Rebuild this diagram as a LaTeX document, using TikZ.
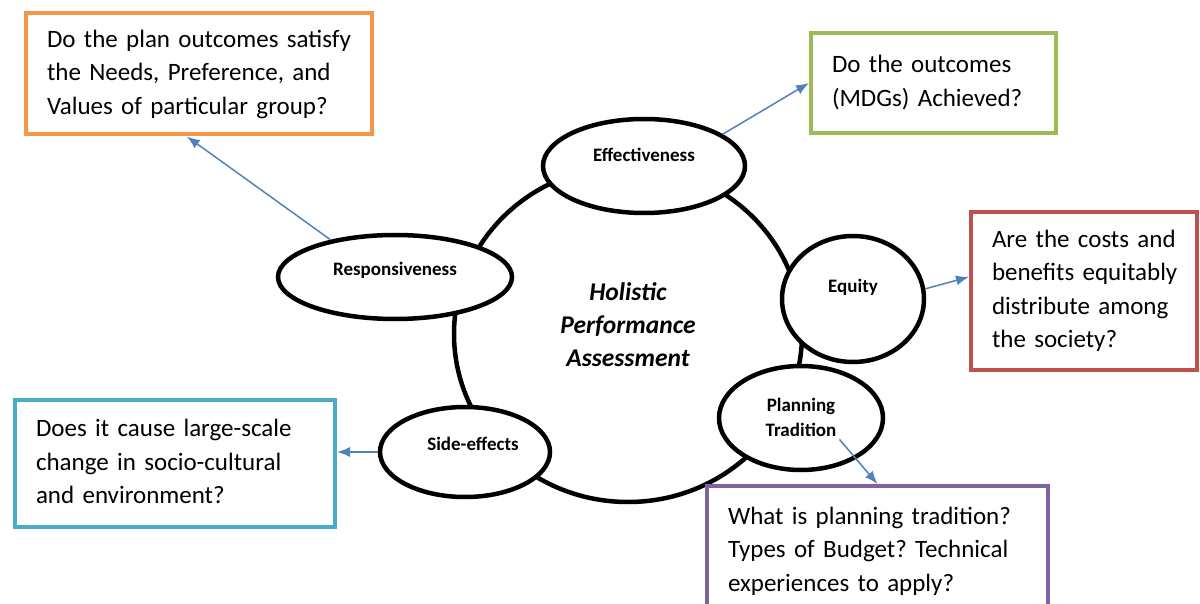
\documentclass[tikz,border=0pt]{standalone}
\usepackage{fontspec}
\setmainfont{Carlito}
\usetikzlibrary{shapes.geometric,arrows.meta}
\definecolor{orng}{HTML}{F79646}
\definecolor{grn}{HTML}{9BBB59}
\definecolor{rd}{HTML}{C0504D}
\definecolor{cyn}{HTML}{4BACC6}
\definecolor{prp}{HTML}{8064A2}
\definecolor{linkblue}{HTML}{4F81BD}
\newcommand{\qlines}[1]{\begin{tabular}{@{}l@{}}#1\end{tabular}}
\begin{document}
\begin{tikzpicture}[x=1pt,y=-1pt,
    bubble/.style={ellipse,draw,line width=4.5pt,fill=white,inner sep=0pt},
    tag/.style={font=\fontsize{19}{25}\selectfont\bfseries,align=center,inner sep=3pt},
    qbox/.style={draw=#1,rectangle,line width=4pt,inner xsep=21pt,inner ysep=0pt,align=left,
        font=\fontsize{25}{33.5}\selectfont\frenchspacing},
    link/.style={draw=linkblue,line width=1.5pt,-{Latex[length=13pt,width=10pt]}}]
                \useasboundingbox (0,0) rectangle (1200,604);
                \clip (0,0) rectangle (1200,604);
                \node[ellipse,draw,line width=4.5pt,minimum width=348pt,minimum height=336pt] (hub) at (628,334) {};
                \node[align=center,font=\fontsize{25.5}{33}\selectfont\bfseries\itshape] (hub-txt) at (628,325) {Holistic\\Performance\\Assessment};
                \node[bubble,minimum width=202pt,minimum height=94pt] (eff) at (644,166) {};
                \node[tag] (eff-txt) at (644,155) {Effectiveness};
                \node[bubble,minimum width=234pt,minimum height=84pt] (resp) at (395,277) {};
                \node[tag] (resp-txt) at (395,270) {Responsiveness};
                \node[bubble,minimum width=142pt,minimum height=126pt] (eqty) at (853,299) {};
                \node[tag] (eqty-txt) at (853,287) {Equity};
                \node[bubble,minimum width=164pt,minimum height=104pt] (plan) at (801,418) {};
                \node[tag] (plan-txt) at (801,417) {Planning\\Tradition};
                \node[bubble,minimum width=170pt,minimum height=90pt] (side) at (465,452) {};
                \node[tag] (side-txt) at (473,444) {Side-effects};
                \node[qbox=orng,text width=304pt,minimum height=121pt] (q-resp) at (199,74) {\qlines{Do the plan outcomes satisfy\\the Needs, Preference, and\\Values of particular group?}};
                \node[qbox=grn,text width=203pt,minimum height=100pt] (q-eff) at (933.5,83) {\qlines{Do the outcomes\\(MDGs) Achieved?}};
                \node[qbox=rd,text width=184pt,minimum height=158pt] (q-eqty) at (1084,291) {\qlines{Are the costs and\\benefits equitably\\distribute among\\the society?}};
                \node[qbox=cyn,text width=278pt,minimum height=127pt] (q-side) at (175,463.5) {\qlines{Does it cause large-scale\\change in socio-cultural\\and environment?}};
                \node[qbox=prp,text width=299pt,minimum height=130pt] (q-plan) at (877.5,551) {\qlines{What is planning tradition?\\Types of Budget? Technical\\experiences to apply?}};
                \draw[link] (resp.150) -- (q-resp.-101);
                \draw[link] (eff.22) -- (q-eff.west);
                \draw[link] (eqty.8) -- (q-eqty.173);
                \draw[link] (side.west) -- (side.west -| q-side.east);
                \draw[link] (plan-txt.south east) -- (q-plan.north);
\end{tikzpicture}
\end{document}
